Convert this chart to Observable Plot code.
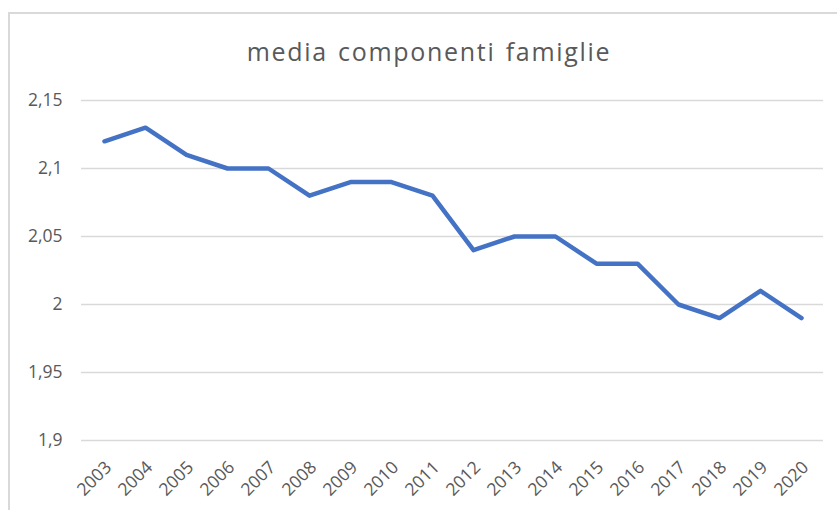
<!DOCTYPE html>
<html>
<head>
<meta charset="utf-8">
<script src="https://cdn.jsdelivr.net/npm/d3@7"></script>
<script src="https://cdn.jsdelivr.net/npm/@observablehq/plot@0.6"></script>
<style>
  html, body { margin: 0; padding: 0; background: #fff; }
  body { width: 837px; height: 510px; position: relative; overflow: hidden; font-family: "Open Sans", sans-serif; }
  #frame { position: absolute; left: 8px; top: 12px; width: 900px; height: 600px; border: 2px solid #d9d9d9; box-sizing: border-box; }
  #title { position: absolute; left: 0; top: 0; width: 858px; height: 80px; text-align: center; font-size: 25px; letter-spacing: 1.7px; word-spacing: 2px; line-height: 1; color: #595959; }
  #title span { position: absolute; left: 0; right: 0; top: 39px; }
  #chart { position: absolute; left: 0; top: 80px; }
</style>
</head>
<body>
<div id="frame"></div>
<div id="title"><span>media componenti famiglie</span></div>
<div id="chart"></div>
<script>
const years = ["2003","2004","2005","2006","2007","2008","2009","2010","2011","2012","2013","2014","2015","2016","2017","2018","2019","2020"];
const values = [2.12, 2.13, 2.11, 2.10, 2.10, 2.08, 2.09, 2.09, 2.08, 2.04, 2.05, 2.05, 2.03, 2.03, 2.00, 1.99, 2.01, 1.99];
const yTicks = [1.9, 1.95, 2, 2.05, 2.1, 2.15];

const data = years.map((y, i) => ({year: y, value: values[i]}));

const chart = Plot.plot({
  width: 837,
  height: 425,
  marginLeft: 81,
  marginRight: 14,
  marginTop: 20,
  marginBottom: 65,
  style: { fontFamily: "'Open Sans', sans-serif", fontSize: "17.5px", color: "#595959", background: "transparent" },
  x: { type: "point", domain: years, padding: 0.5 },
  y: { domain: [1.9, 2.15] },
  marks: [
    Plot.gridY(yTicks, { stroke: "#d9d9d9", strokeOpacity: 1, strokeWidth: 1.5 }),
    Plot.axisY({ ticks: yTicks, tickFormat: d => String(d).replace(".", ","), label: null, tickSize: 0, tickPadding: 19 }),
    Plot.axisX({ label: null, tickSize: 0, tickPadding: 24, tickRotate: -45, dx: 4 }),
    Plot.line(data, { x: "year", y: "value", stroke: "#4472c4", strokeWidth: 4.5, strokeLinejoin: "round", strokeLinecap: "round" })
  ]
});
document.getElementById("chart").appendChild(chart);
</script>
</body>
</html>
